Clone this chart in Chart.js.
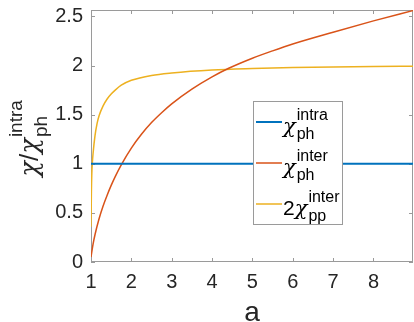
<!DOCTYPE html>
<html>
<head>
<meta charset="utf-8">
<script src="https://cdn.jsdelivr.net/npm/chart.js@4"></script>
<style>
  html, body { margin: 0; padding: 0; background: #fff; }
  canvas { display: block; }
</style>
</head>
<body>
<canvas id="chiChart" width="414" height="322"></canvas>
<script>
// chi_ph^intra (constant)
const aIntra = [1, 8.98];
const chiIntra = [1, 1];

// chi_ph^inter
const aInterPh = [1, 1.05, 1.1, 1.2, 1.3, 1.4, 1.5, 1.6, 1.75, 2.0, 2.25, 2.5, 2.75, 3.0, 3.5, 4.0, 4.4, 5.0, 5.5, 6.0, 7.0, 8.0, 8.98];
const chiInterPh = [0.05, 0.18, 0.28, 0.44, 0.57, 0.68, 0.78, 0.87, 0.99, 1.16, 1.30, 1.42, 1.52, 1.61, 1.76, 1.885, 1.97, 2.075, 2.15, 2.22, 2.34, 2.455, 2.56];

// 2 chi_pp^inter
const aInterPp = [1, 1.005, 1.01, 1.02, 1.035, 1.05, 1.1, 1.15, 1.2, 1.3, 1.4, 1.5, 1.6, 1.75, 2.0, 2.5, 3.0, 4.0, 5.0, 6.0, 7.0, 8.0, 8.98];
const chiInterPp = [0.36, 0.55, 0.72, 0.9, 1.02, 1.1, 1.29, 1.41, 1.49, 1.59, 1.66, 1.71, 1.75, 1.80, 1.85, 1.90, 1.925, 1.955, 1.97, 1.98, 1.986, 1.99, 1.993];

const xTicks = [1, 2, 3, 4, 5, 6, 7, 8];
const yTicks = [0, 0.5, 1, 1.5, 2, 2.5];
const yTickLabels = ['0', '0.5', '1', '1.5', '2', '2.5'];

const seriesColors = ['#0072BD', '#D95319', '#EDB120'];
const legendNames = [
    { pre: '', sup: 'intra', sub: 'ph' },
    { pre: '', sup: 'inter', sub: 'ph' },
    { pre: '2', sup: 'inter', sub: 'pp' }
];

const FONT = '"Liberation Sans", Arial, Helvetica, sans-serif';
const GREEK = '"DejaVu Serif", "Liberation Serif", serif';
const AXIS_GRAY = '#9a9a9a';
const TEXT_DARK = '#262626';

const toPoints = (xs, ys) => xs.map((x, i) => ({ x: x, y: ys[i] }));

// draws a run of pieces, χ in a slanted serif face, then stacked super/subscripts
function drawScripted(ctx, x, y, pieces, sup, sub, mainSize, scriptSize, supDy, subDy) {
    let cx = x;
    pieces.forEach(p => {
        ctx.font = (p === 'χ' ? 'italic ' + mainSize + 'px ' + GREEK : mainSize + 'px ' + FONT);
        ctx.fillText(p, cx, y);
        cx += ctx.measureText(p).width;
    });
    ctx.font = scriptSize + 'px ' + FONT;
    ctx.fillText(sup, cx + 1, y - supDy);
    ctx.fillText(sub, cx + 1, y + subDy);
    return cx - x + 1 + Math.max(ctx.measureText(sup).width, ctx.measureText(sub).width);
}

const axesBox = {
    id: 'axesBox',
    beforeDatasetsDraw(chart) {
        const { ctx, chartArea: a, scales } = chart;
        ctx.save();
        ctx.strokeStyle = AXIS_GRAY;
        ctx.lineWidth = 1;
        ctx.strokeRect(a.left + 0.5, a.top + 0.5, a.right - a.left - 1, a.bottom - a.top - 1);
        ctx.beginPath();
        xTicks.forEach(v => {
            const px = Math.round(scales.x.getPixelForValue(v)) + 0.5;
            ctx.moveTo(px, a.bottom); ctx.lineTo(px, a.bottom - 4);
            ctx.moveTo(px, a.top); ctx.lineTo(px, a.top + 4);
        });
        yTicks.forEach(v => {
            const py = Math.round(scales.y.getPixelForValue(v)) + 0.5;
            ctx.moveTo(a.left, py); ctx.lineTo(a.left + 4, py);
            ctx.moveTo(a.right, py); ctx.lineTo(a.right - 4, py);
        });
        ctx.stroke();
        ctx.restore();
    },
    afterDatasetsDraw(chart) {
        const { ctx } = chart;
        ctx.save();
        // legend box
        const bx = 253.5, by = 101.5, bw = 89, bh = 123;
        ctx.fillStyle = '#fff';
        ctx.fillRect(bx, by, bw, bh);
        ctx.strokeStyle = AXIS_GRAY;
        ctx.lineWidth = 1;
        ctx.strokeRect(bx, by, bw, bh);
        legendNames.forEach((entry, i) => {
            const ly = 122 + i * 41;
            ctx.strokeStyle = seriesColors[i];
            ctx.lineWidth = i === 0 ? 2 : 1.5;
            ctx.beginPath();
            ctx.moveTo(256, ly); ctx.lineTo(282, ly);
            ctx.stroke();
            ctx.fillStyle = '#000';
            ctx.textAlign = 'left';
            ctx.textBaseline = 'alphabetic';
            const pieces = entry.pre ? [entry.pre, 'χ'] : ['χ'];
            drawScripted(ctx, 283, ly + 10.7, pieces, entry.sup, entry.sub, 21, 16, 12.7, 6.3);
        });
        ctx.restore();
    },
    afterDraw(chart) {
        const { ctx, chartArea: a } = chart;
        ctx.save();
        ctx.fillStyle = TEXT_DARK;
        ctx.textBaseline = 'alphabetic';
        // x title
        ctx.font = '28px ' + FONT;
        ctx.textAlign = 'center';
        ctx.fillText('a', (a.left + a.right) / 2, 321);
        // y title, rotated; measure first, then centre on the axis
        ctx.textAlign = 'left';
        ctx.globalAlpha = 0;
        const w = drawScripted(ctx, 0, 0, ['χ', '/', 'χ'], 'intra', 'ph', 26, 19, 15.5, 9);
        ctx.globalAlpha = 1;
        ctx.translate(0, 138.5 + w / 2);
        ctx.rotate(-Math.PI / 2);
        drawScripted(ctx, 0, 37.5, ['χ', '/', 'χ'], 'intra', 'ph', 26, 19, 15.5, 9);
        ctx.restore();
    }
};

new Chart(document.getElementById('chiChart'), {
    type: 'line',
    data: {
        datasets: [
            { data: toPoints(aIntra, chiIntra), borderColor: seriesColors[0], borderWidth: 2 },
            { data: toPoints(aInterPh, chiInterPh), borderColor: seriesColors[1], borderWidth: 1.5, cubicInterpolationMode: 'monotone' },
            { data: toPoints(aInterPp, chiInterPp), borderColor: seriesColors[2], borderWidth: 1.5, cubicInterpolationMode: 'monotone' }
        ]
    },
    plugins: [axesBox],
    options: {
        responsive: false,
        animation: false,
        devicePixelRatio: 1,
        layout: { padding: { top: 10, right: 1, left: 0, bottom: 0 } },
        elements: { point: { radius: 0 } },
        plugins: { legend: { display: false }, tooltip: { enabled: false } },
        scales: {
            x: {
                type: 'linear',
                min: 1,
                max: 8.98,
                grid: { display: false, drawTicks: false },
                border: { display: false },
                afterBuildTicks: scale => { scale.ticks = xTicks.map(v => ({ value: v })); },
                afterFit: scale => { scale.height = 60; scale.paddingLeft = 0; scale.paddingRight = 0; },
                ticks: {
                    color: TEXT_DARK,
                    font: { family: FONT, size: 20 },
                    padding: 8,
                    maxRotation: 0,
                    autoSkip: false
                }
            },
            y: {
                type: 'linear',
                min: 0,
                max: 2.566,
                grid: { display: false, drawTicks: false },
                border: { display: false },
                afterBuildTicks: scale => { scale.ticks = yTicks.map(v => ({ value: v })); },
                afterFit: scale => { scale.width = 91; scale.paddingTop = 0; scale.paddingBottom = 0; },
                ticks: {
                    color: TEXT_DARK,
                    font: { family: FONT, size: 20 },
                    padding: 8,
                    autoSkip: false,
                    callback: (value, index) => yTickLabels[index]
                }
            }
        }
    }
});
</script>
</body>
</html>
